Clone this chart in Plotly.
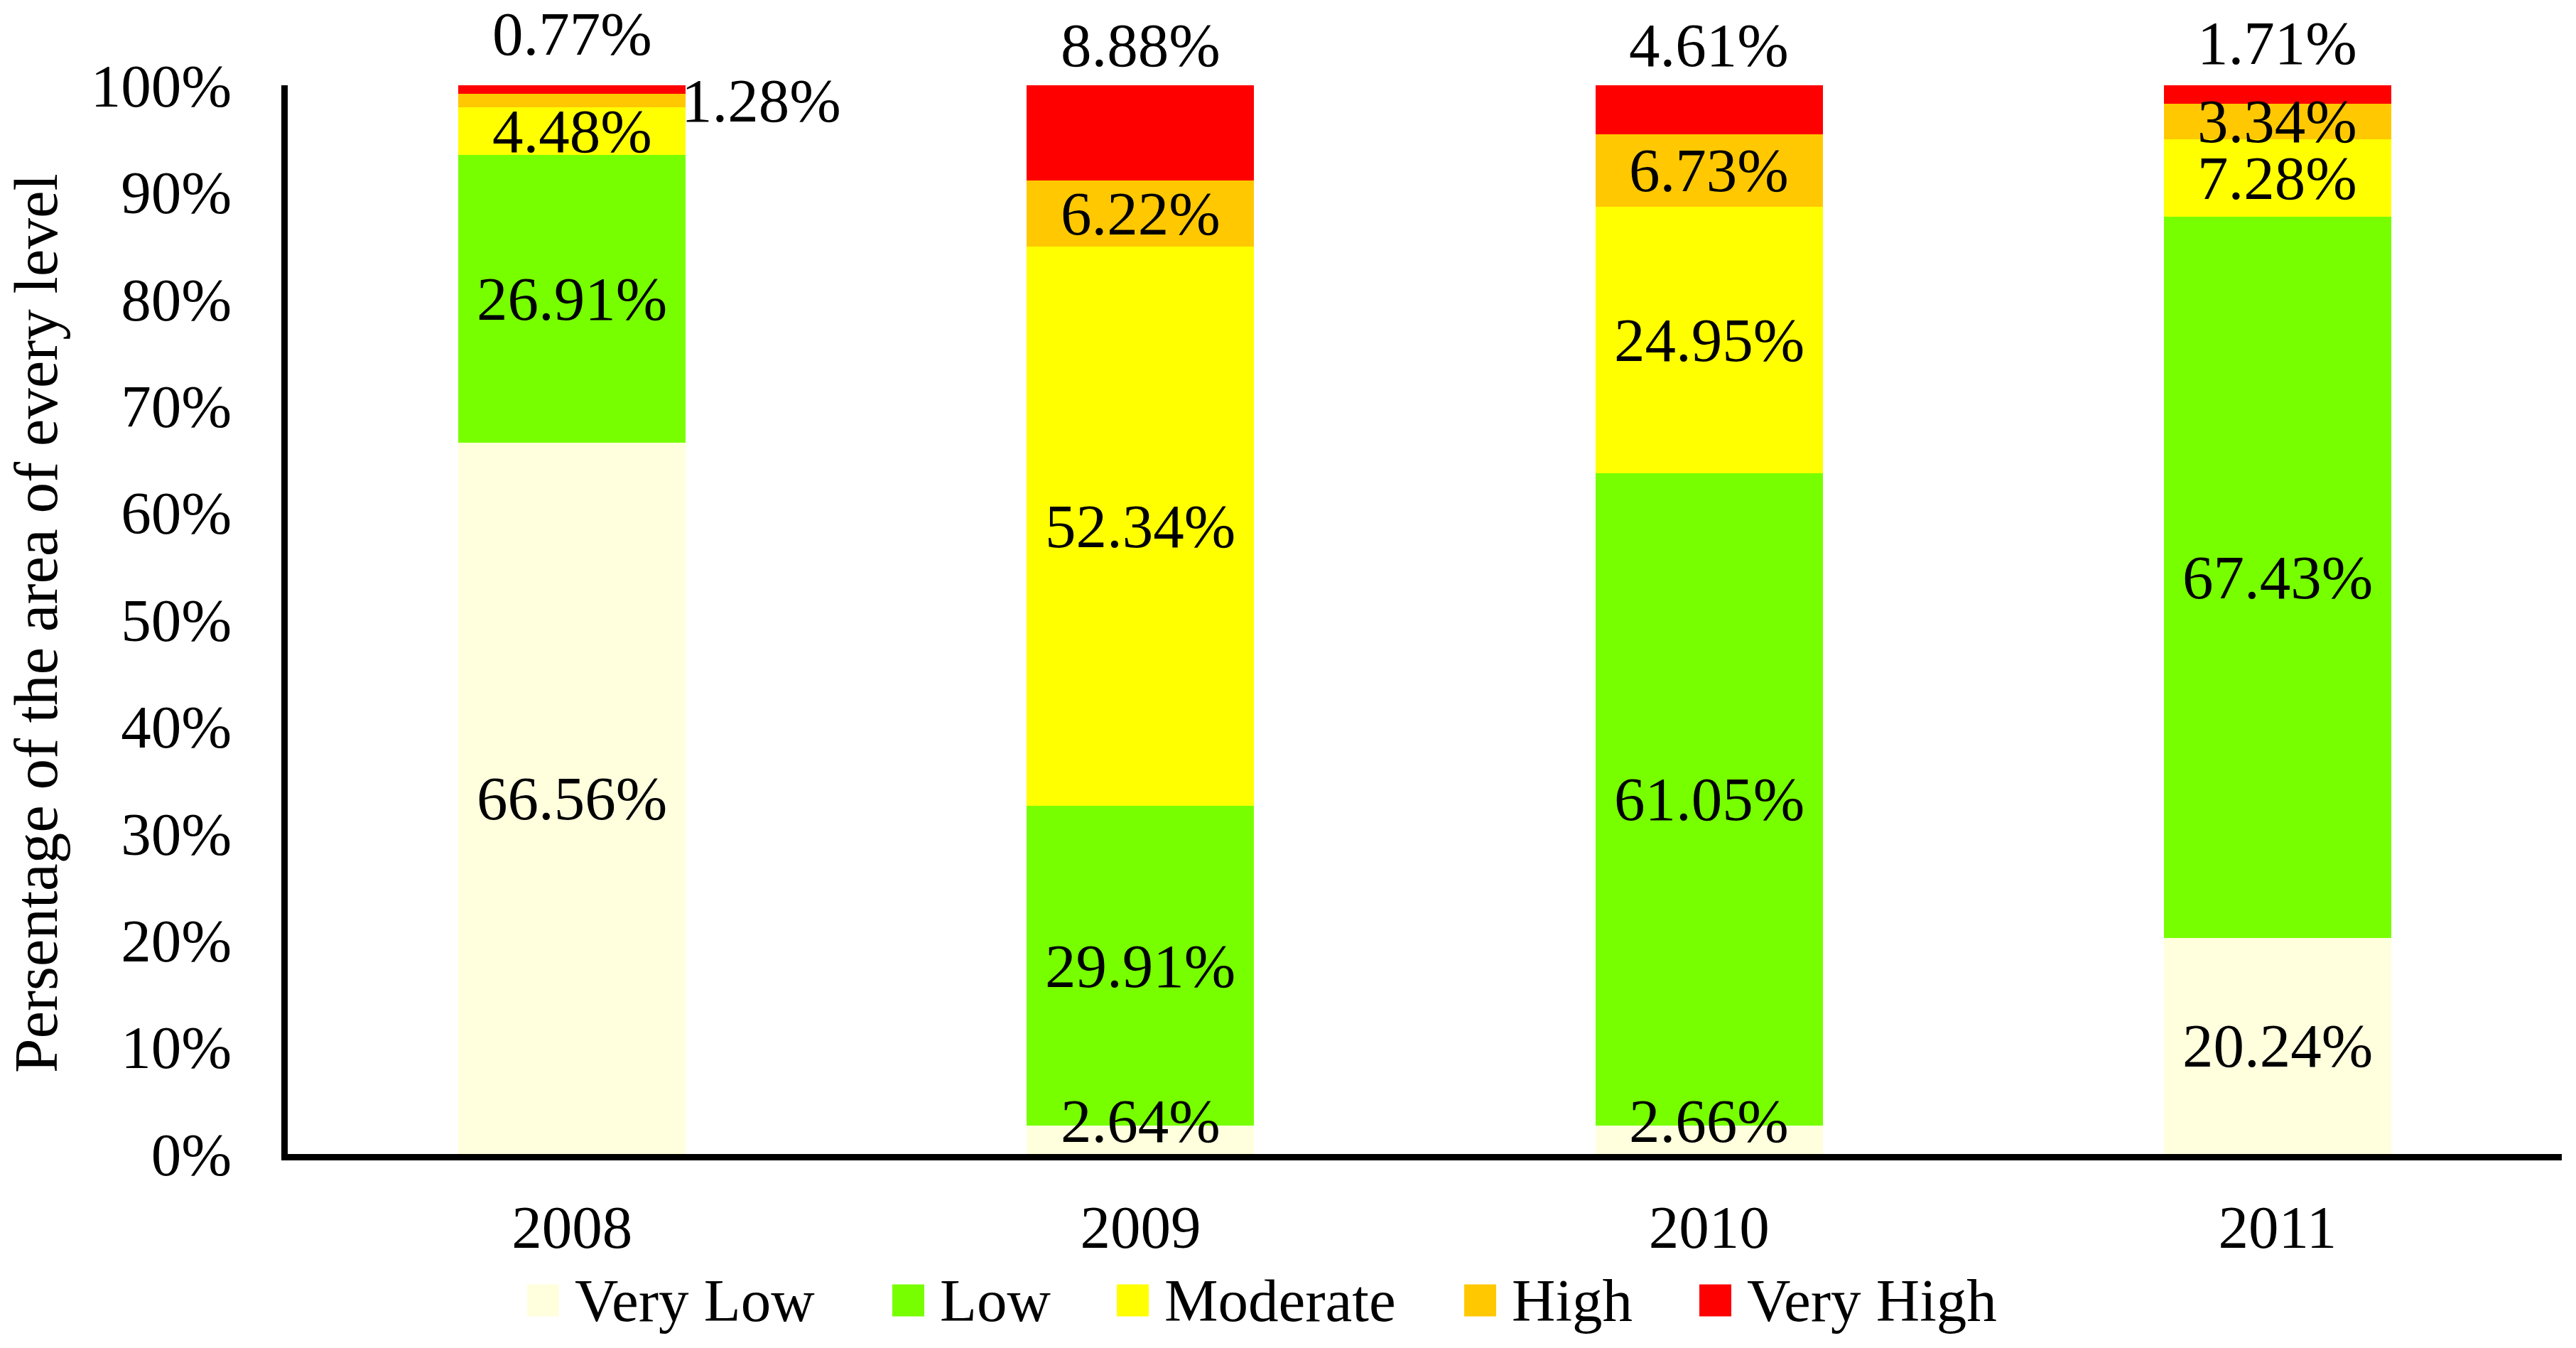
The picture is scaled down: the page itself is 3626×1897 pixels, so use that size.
import plotly.graph_objects as go

# ---------------- data ----------------
years = ["2008", "2009", "2010", "2011"]
levels = ["Very Low", "Low", "Moderate", "High", "Very High"]
very_low = [66.56, 2.64, 2.66, 20.24]
low = [26.91, 29.91, 61.05, 67.43]
moderate = [4.48, 52.34, 24.95, 7.28]
high = [1.28, 6.22, 6.73, 3.34]
very_high = [0.77, 8.88, 4.61, 1.71]
y_ticks = [0, 10, 20, 30, 40, 50, 60, 70, 80, 90, 100]
y_tick_labels = ["0%", "10%", "20%", "30%", "40%", "50%", "60%", "70%", "80%", "90%", "100%"]
y_title = "Persentage of the area of every level"

series = [very_low, low, moderate, high, very_high]

# ---------------- style ----------------
colors = ["#FFFFDD", "#77FF00", "#FFFF00", "#FFC800", "#FF0000"]
FONT = "Liberation Serif"
FS = 85
FS_LBL = 87

W, H = 3626, 1897
L, R, T, B = 405, 20, 120, 273
PW, PH = W - L - R, H - T - B


def px(x):
    return (x - L) / PW


def py(y):
    return (H - B - y) / PH


fig = go.Figure()
for name, vals, col in zip(levels, series, colors):
    fig.add_trace(go.Bar(x=years, y=vals, name=name, marker=dict(color=col, line=dict(width=0)),
                         showlegend=False))

# label placement tweaks (style only)
label_shift = {  # (level index, year index): (xanchor, xshift, yshift)
    (0, 1): ("center", 0, 27),
    (0, 2): ("center", 0, 27),
    (3, 0): ("left", 152, 0),
}
top_shift = [73, 57, 57, 60]

annotations = []
for j, yr in enumerate(years):
    cum = 0.0
    for i, vals in enumerate(series):
        v = vals[j]
        if i == len(series) - 1:
            annotations.append(dict(x=j, y=cum + v, xref="x", yref="y", text=f"{v:.2f}%",
                                    showarrow=False, xanchor="center", yanchor="middle",
                                    yshift=top_shift[j], font=dict(family=FONT, size=FS_LBL, color="black")))
        else:
            xa, xs, ys = label_shift.get((i, j), ("center", 0, 0))
            annotations.append(dict(x=j, y=cum + v / 2, xref="x", yref="y", text=f"{v:.2f}%",
                                    showarrow=False, xanchor=xa, yanchor="middle", xshift=xs, yshift=ys,
                                    font=dict(family=FONT, size=FS_LBL, color="black")))
        cum += v

# y-axis title
annotations.append(dict(x=px(51), y=py(877), xref="paper", yref="paper", text=y_title, textangle=-90,
                        showarrow=False, xanchor="center", yanchor="middle",
                        font=dict(family=FONT, size=87, color="black")))

# custom legend
leg_left = [742, 1256, 1572, 2061, 2392]
sq = 45
leg_y = 1830
shapes = []
for name, col, x0 in zip(levels, colors, leg_left):
    shapes.append(dict(type="rect", xref="paper", yref="paper", x0=px(x0), x1=px(x0 + sq),
                       y0=py(leg_y + sq / 2), y1=py(leg_y - sq / 2), fillcolor=col, line=dict(width=0)))
    annotations.append(dict(x=px(x0 + sq + 20), y=py(leg_y), xref="paper", yref="paper", text=name,
                            showarrow=False, xanchor="left", yanchor="middle",
                            font=dict(family=FONT, size=FS, color="black")))

fig.update_layout(
    width=W, height=H,
    margin=dict(l=L, r=R, t=T, b=B, pad=0),
    barmode="stack", bargap=0.6,
    plot_bgcolor="white", paper_bgcolor="white",
    font=dict(family=FONT, size=FS, color="black"),
    annotations=annotations, shapes=shapes,
    showlegend=False,
)
fig.update_xaxes(type="category", range=[-0.5, len(years) - 0.5], showline=True, linecolor="black",
                 linewidth=9, ticks="", showgrid=False, zeroline=False, ticklabelstandoff=21,
                 tickfont=dict(family=FONT, size=FS, color="black"))
fig.update_yaxes(range=[0, 100], tickvals=y_ticks, ticktext=y_tick_labels, showline=True, linecolor="black",
                 linewidth=9, ticks="", showgrid=False, zeroline=False, ticklabelstandoff=53,
                 tickfont=dict(family=FONT, size=FS, color="black"))

fig.write_html("out.html", config={"displayModeBar": False},
               post_script="document.body.style.margin='0';")
